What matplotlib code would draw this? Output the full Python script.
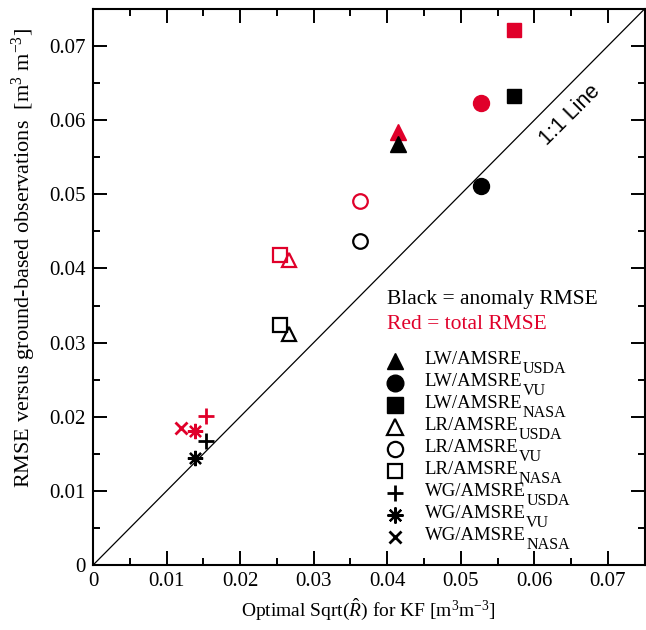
import matplotlib.pyplot as plt
import numpy as np

plt.rcParams['font.family'] = 'Liberation Serif'
plt.rcParams['mathtext.fontset'] = 'custom'
plt.rcParams['mathtext.rm'] = 'Liberation Serif'
plt.rcParams['mathtext.it'] = 'Liberation Serif:italic'

names = ['LW/AMSRE', 'LW/AMSRE', 'LW/AMSRE', 'LR/AMSRE', 'LR/AMSRE', 'LR/AMSRE',
         'WG/AMSRE', 'WG/AMSRE', 'WG/AMSRE']
subs = ['USDA', 'VU', 'NASA', 'USDA', 'VU', 'NASA', 'USDA', 'VU', 'NASA']
sqrt_r = [0.0415, 0.0528, 0.0572, 0.0267, 0.0363, 0.0254, 0.0154, 0.0138, 0.0119]
rmse_anom = [0.0568, 0.0511, 0.0633, 0.0312, 0.0437, 0.0324, 0.0167, 0.0144, None]
rmse_total = [0.0584, 0.0623, 0.0722, 0.0412, 0.0491, 0.0418, 0.0201, 0.0181, 0.0185]

markers = ['^', 'o', 's', '^', 'o', 's', '+', (8, 2, 0), 'x']
filled = [True, True, True, False, False, False, True, True, True]
msizes = [11.5, 11.5, 10.5, 10.5, 10.5, 9.5, 11, 11, 8]

red = '#e0002a'

def style(i, col):
    if markers[i] in ('+', 'x'):
        return dict(markerfacecolor=col, markeredgecolor=col, markeredgewidth=2.0)
    if isinstance(markers[i], tuple):
        return dict(markerfacecolor=col, markeredgecolor=col, markeredgewidth=1.6)
    if filled[i]:
        return dict(markerfacecolor=col, markeredgecolor=col, markeredgewidth=1.0)
    return dict(markerfacecolor='none', markeredgecolor=col, markeredgewidth=1.6)

fig = plt.figure(figsize=(6.46, 6.30), dpi=100)
ax = fig.add_axes([0.144, 0.103, 0.854, 0.883])

ax.plot([0, 0.075], [0, 0.075], color='black', lw=0.9)
ax.text(0.0648, 0.0606, '1:1 Line', rotation=45, ha='center', va='center',
        fontsize=15.5, family='Liberation Sans')

for i in range(len(names)):
    for vals, col in ((rmse_total, red), (rmse_anom, 'black')):
        if vals[i] is None:
            continue
        ax.plot(sqrt_r[i], vals[i], linestyle='none', marker=markers[i],
                markersize=msizes[i], **style(i, col))

# hand-made legend (subscripts are larger than mathtext ones)
px_h = 0.883 * 630
for i in range(len(names)):
    yc = 1 - (361 + 22 * i - 9) / px_h
    ax.plot(0.547, yc, transform=ax.transAxes, linestyle='none', marker=markers[i],
            markersize=msizes[i] + 0.5, clip_on=False, **style(i, 'black'))
    t = ax.text(0.601, yc - 3 / px_h, names[i], transform=ax.transAxes,
                fontsize=13.5, va='baseline')
    ax.annotate(subs[i], xy=(1, 0), xycoords=t, xytext=(0.5, -3.6),
                textcoords='offset points', fontsize=11.5, va='baseline')

ax.text(0.0399, 0.0358, 'Black = anomaly RMSE', fontsize=15.5, color='black', va='center')
ax.text(0.0399, 0.0324, 'Red = total RMSE', fontsize=15.5, color=red, va='center')

ax.set_xlim(0, 0.075)
ax.set_ylim(0, 0.075)
ticks = np.arange(0, 0.071, 0.01)
labels = ['0', '0.01', '0.02', '0.03', '0.04', '0.05', '0.06', '0.07']
ax.set_xticks(ticks)
ax.set_yticks(ticks)
ax.set_xticklabels(labels)
ax.set_yticklabels(labels)
ax.set_xticks(np.arange(0.005, 0.075, 0.01), minor=True)
ax.set_yticks(np.arange(0.005, 0.075, 0.01), minor=True)
ax.tick_params(which='both', direction='in', top=True, right=True, labelsize=15, width=1.4)
ax.tick_params(which='major', length=10, pad=5)
ax.tick_params(which='minor', length=5)
for s in ax.spines.values():
    s.set_linewidth(1.5)

ax.set_xlabel('Optimal Sqrt($\\hat{R}$) for KF [m$^3$m$^{-3}$]', fontsize=14)
ax.set_ylabel('RMSE versus ground-based observations  [m$^3$ m$^{-3}$]', fontsize=16)
ax.yaxis.set_label_coords(-0.1, 0.552)

fig.savefig('out.png', dpi=100)
